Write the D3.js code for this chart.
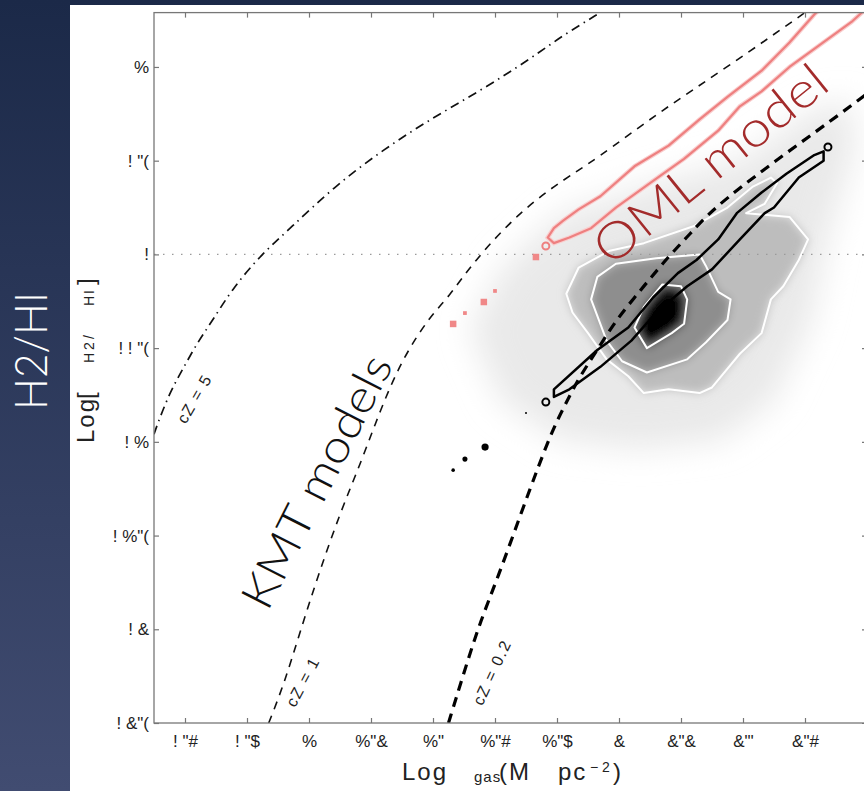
<!DOCTYPE html>
<html>
<head>
<meta charset="utf-8">
<script src="https://cdn.jsdelivr.net/npm/d3@7"></script>
<style>
    body { margin: 0; background: #fff; }
    svg { display: block; }
    .tick text { font-family: "Liberation Sans", Arial, sans-serif; font-size: 17px; fill: #222; }
    .tick line { stroke: #777; stroke-width: 1.2; }
</style>
</head>
<body>
<div id="chartcontainer"></div>
<script>
/*global d3 */

// tick values and labels as they are printed in the figure (its font glyphs are remapped)
var xTicks = [0.6, 0.8, 1.0, 1.2, 1.4, 1.6, 1.8, 2.0, 2.2, 2.4, 2.6],
    xTickLabels = ['! "#', '! "$', '%', '%"&', '%"', '%"#', '%"$', '&', '&"&', '&"\'', '&"#'],
    yTicks = [1, 0.5, 0, -0.5, -1, -1.5, -2, -2.5],
    yTickLabels = ['%', '! "(', '!', '! ! "(', '! %', '! %"(', '! &', '! &"('];

// KMT model curves [log Sigma_gas, log(H2/HI)]
var kmtZ5 = [[0.50, -0.96], [0.51, -0.91], [0.55, -0.74], [0.59, -0.62], [0.64, -0.47], [0.69, -0.35],
    [0.75, -0.19], [0.84, -0.01], [0.94, 0.14], [1.08, 0.36], [1.24, 0.56], [1.40, 0.73], [1.56, 0.88],
    [1.72, 1.05], [1.82, 1.17], [1.94, 1.29]];
var kmtZ1 = [[0.87, -2.50], [0.92, -2.29], [0.97, -2.02], [1.03, -1.71], [1.10, -1.38], [1.17, -1.10],
    [1.23, -0.83], [1.30, -0.56], [1.39, -0.33], [1.45, -0.23], [1.53, -0.04], [1.68, 0.23], [1.83, 0.41],
    [1.92, 0.50], [2.13, 0.76], [2.35, 1.00], [2.60, 1.29]];
var kmtZ02 = [[1.45, -2.50], [1.50, -2.23], [1.55, -1.97], [1.61, -1.72], [1.68, -1.40], [1.74, -1.13],
    [1.79, -0.92], [1.83, -0.79], [1.87, -0.66], [1.93, -0.51], [1.99, -0.35], [2.08, -0.17], [2.16, -0.01],
    [2.23, 0.11], [2.30, 0.24], [2.48, 0.47], [2.69, 0.72], [2.81, 0.87]];

// OML model contour (closed)
var omlContour = [[1.77, 0.09], [1.79, 0.14], [1.82, 0.18], [1.87, 0.24], [1.94, 0.31], [2.05, 0.47],
    [2.16, 0.58], [2.26, 0.72], [2.35, 0.84], [2.46, 0.98], [2.55, 1.13], [2.63, 1.28], [2.68, 1.36],
    [2.83, 1.36], [2.75, 1.24], [2.65, 1.12], [2.55, 1.00], [2.46, 0.87], [2.39, 0.79], [2.32, 0.66],
    [2.21, 0.51], [2.10, 0.38], [1.99, 0.25], [1.91, 0.14], [1.84, 0.09], [1.79, 0.06]];
// OML isolated cells [x, y, count], open circle at the tip
var omlCells = [[1.465, -0.371, 3], [1.503, -0.313, 1], [1.564, -0.254, 3], [1.600, -0.195, 1], [1.732, -0.014, 3]];
var omlEnds = [[1.764, 0.045]];

// black contour (closed) and its isolated cells
var kmtContour = [[1.79, -0.72], [1.93, -0.51], [2.03, -0.39], [2.11, -0.23], [2.19, -0.10], [2.25, -0.03],
    [2.32, 0.08], [2.38, 0.22], [2.46, 0.33], [2.54, 0.43], [2.63, 0.53], [2.66, 0.55],
    [2.66, 0.50], [2.58, 0.41], [2.50, 0.25], [2.47, 0.22], [2.39, 0.08], [2.30, -0.08], [2.22, -0.17],
    [2.12, -0.31], [2.04, -0.46], [1.94, -0.60], [1.84, -0.72], [1.79, -0.76]];
var kmtCells = [[1.568, -1.028, 4], [1.503, -1.092, 2], [1.465, -1.151, 1], [1.700, -0.846, 0.3]];
var kmtEnds = [[1.764, -0.788], [2.674, 0.573]];

// observed pixel density: haze, white contour levels, peak
var obsHaze = [[1.52, -0.40], [1.63, -0.06], [1.81, 0.21], [2.10, 0.37], [2.39, 0.50], [2.63, 0.77],
    [2.75, 0.82], [2.76, 0.56], [2.68, 0.13], [2.62, -0.35], [2.50, -0.78], [2.33, -0.99], [2.07, -1.04],
    [1.81, -0.99], [1.62, -0.78]];
var obsLevel1 = [[1.83, -0.21], [1.87, -0.07], [1.97, 0.02], [2.08, 0.06], [2.24, 0.15], [2.35, 0.25],
    [2.43, 0.36], [2.49, 0.41], [2.51, 0.38], [2.47, 0.27], [2.41, 0.22], [2.55, 0.20], [2.61, 0.08],
    [2.58, -0.03], [2.53, -0.17], [2.49, -0.24], [2.46, -0.42], [2.39, -0.53], [2.30, -0.71], [2.26, -0.74],
    [2.16, -0.72], [2.08, -0.74], [2.03, -0.65], [1.96, -0.56], [1.90, -0.42], [1.85, -0.31]];
var obsLevel2 = [[1.91, -0.24], [1.93, -0.12], [1.99, -0.05], [2.12, -0.02], [2.26, 0.00], [2.28, -0.06],
    [2.32, -0.20], [2.36, -0.24], [2.35, -0.35], [2.28, -0.47], [2.22, -0.56], [2.09, -0.63], [2.01, -0.57],
    [1.96, -0.46]];
var obsLevel3 = [[2.05, -0.39], [2.08, -0.28], [2.14, -0.16], [2.20, -0.17], [2.22, -0.24], [2.21, -0.37],
    [2.17, -0.42], [2.09, -0.50]];
var obsPeak = [[2.07, -0.35], [2.10, -0.24], [2.16, -0.19], [2.20, -0.23], [2.21, -0.32], [2.17, -0.41],
    [2.11, -0.47], [2.07, -0.43]];

function H2Figure() {

    var width = 864,
        height = 791,
        panelWidth = 70,
        plot = { left: 154, right: 867, top: 12.6, bottom: 723 };

    var x = d3.scaleLinear().domain([0.5, 2.8]).range([plot.left, plot.right]),
        y = d3.scaleLinear().domain([-2.5, 1.29]).range([plot.bottom, plot.top]);

    var svg, defs, clipped;

    var line = d3.line()
        .x(function (d) { return x(d[0]); })
        .y(function (d) { return y(d[1]); })
        .curve(d3.curveBasis);
    var loop = d3.line()
        .x(function (d) { return x(d[0]); })
        .y(function (d) { return y(d[1]); })
        .curve(d3.curveLinearClosed);

    function prepareSvg() {
        svg = d3.select("#chartcontainer").append("svg")
            .attr("width", width)
            .attr("height", height);
        defs = svg.append("defs");

        var grad = defs.append("linearGradient").attr("id", "panelGrad")
            .attr("x1", 0).attr("y1", 0).attr("x2", 0).attr("y2", 1);
        grad.append("stop").attr("offset", "0%").attr("stop-color", "#1b2948");
        grad.append("stop").attr("offset", "100%").attr("stop-color", "#414c71");

        defs.append("filter").attr("id", "soft")
            .attr("x", "-30%").attr("y", "-30%").attr("width", "160%").attr("height", "160%")
            .append("feGaussianBlur").attr("stdDeviation", 5);
        defs.append("filter").attr("id", "haze")
            .attr("x", "-50%").attr("y", "-50%").attr("width", "200%").attr("height", "200%")
            .append("feGaussianBlur").attr("stdDeviation", 16);

        defs.append("clipPath").attr("id", "plotClip")
            .append("rect")
            .attr("x", plot.left).attr("y", plot.top)
            .attr("width", plot.right - plot.left).attr("height", plot.bottom - plot.top);

        // slide background: dark panel on the left and a thin strip on top
        svg.append("rect").attr("width", width).attr("height", height).attr("fill", "url(#panelGrad)");
        svg.append("rect").attr("x", panelWidth).attr("y", 5)
            .attr("width", width - panelWidth).attr("height", height - 5).attr("fill", "#fff");

        svg.append("text")
            .attr("transform", "translate(47," + 351 + ") rotate(-90)")
            .attr("text-anchor", "middle")
            .attr("font-family", "Lato, 'Open Sans', sans-serif")
            .attr("font-weight", 300)
            .attr("font-size", 46)
            .attr("textLength", 118)
            .attr("lengthAdjust", "spacingAndGlyphs")
            .attr("fill", "#fff")
            .text("H2/HI");

        clipped = svg.append("g").attr("clip-path", "url(#plotClip)");
    }

    function drawDensity() {
        clipped.append("path").attr("d", loop(obsHaze))
            .attr("fill", "#e9e9e9").attr("filter", "url(#haze)");

        var shade = clipped.append("g").attr("filter", "url(#soft)");
        shade.append("path").attr("d", loop(obsLevel1)).attr("fill", "#bdbdbd");
        shade.append("path").attr("d", loop(obsLevel2)).attr("fill", "#8e8e8e");
        shade.append("path").attr("d", loop(obsLevel3)).attr("fill", "#2a2a2a");
        shade.append("path").attr("d", loop(obsPeak)).attr("fill", "#000");

        [obsLevel1, obsLevel2, obsLevel3].forEach(function (level) {
            clipped.append("path").attr("d", loop(level))
                .attr("fill", "none")
                .attr("stroke", "#fff")
                .attr("stroke-width", 2)
                .attr("stroke-linejoin", "round");
        });
    }

    function drawModels() {
        clipped.append("line")
            .attr("x1", plot.left).attr("x2", plot.right)
            .attr("y1", y(0)).attr("y2", y(0))
            .attr("stroke", "#9a9a9a")
            .attr("stroke-width", 1.3)
            .attr("stroke-dasharray", "1.5,7.5");

        clipped.append("path").attr("d", line(kmtZ5))
            .attr("fill", "none").attr("stroke", "#111")
            .attr("stroke-width", 1.7).attr("stroke-dasharray", "9,5,1.5,5");
        clipped.append("path").attr("d", line(kmtZ1))
            .attr("fill", "none").attr("stroke", "#111")
            .attr("stroke-width", 1.6).attr("stroke-dasharray", "8,7");
        clipped.append("path").attr("d", line(kmtZ02))
            .attr("fill", "none").attr("stroke", "#000")
            .attr("stroke-width", 3.2).attr("stroke-dasharray", "10,7");

        // OML contour
        clipped.append("path").attr("d", loop(omlContour))
            .attr("fill", "none").attr("stroke", "#f9cfcf").attr("stroke-width", 4.5);
        clipped.append("path").attr("d", loop(omlContour))
            .attr("fill", "none").attr("stroke", "#ee8080").attr("stroke-width", 2.2)
            .attr("stroke-linejoin", "round");

        // black contour
        clipped.append("path").attr("d", loop(kmtContour))
            .attr("fill", "none").attr("stroke", "#000").attr("stroke-width", 2.5)
            .attr("stroke-linejoin", "round");

        var cellSize = d3.scaleSqrt().domain([0, 3]).range([0, 6.5]),
            dotSize = d3.scaleSqrt().domain([0, 4]).range([0, 3.6]);

        clipped.selectAll("rect.oml").data(omlCells).enter().append("rect")
            .attr("class", "oml")
            .attr("x", function (d) { return x(d[0]) - cellSize(d[2]) / 2; })
            .attr("y", function (d) { return y(d[1]) - cellSize(d[2]) / 2; })
            .attr("width", function (d) { return cellSize(d[2]); })
            .attr("height", function (d) { return cellSize(d[2]); })
            .attr("fill", "#f08888");
        clipped.selectAll("circle.omlEnd").data(omlEnds).enter().append("circle")
            .attr("class", "omlEnd")
            .attr("cx", function (d) { return x(d[0]); })
            .attr("cy", function (d) { return y(d[1]); })
            .attr("r", 3.5)
            .attr("fill", "none").attr("stroke", "#ee8080").attr("stroke-width", 2);

        clipped.selectAll("circle.kmt").data(kmtCells).enter().append("circle")
            .attr("class", "kmt")
            .attr("cx", function (d) { return x(d[0]); })
            .attr("cy", function (d) { return y(d[1]); })
            .attr("r", function (d) { return dotSize(d[2]); })
            .attr("fill", "#000");
        clipped.selectAll("circle.kmtEnd").data(kmtEnds).enter().append("circle")
            .attr("class", "kmtEnd")
            .attr("cx", function (d) { return x(d[0]); })
            .attr("cy", function (d) { return y(d[1]); })
            .attr("r", 3.5)
            .attr("fill", "none").attr("stroke", "#000").attr("stroke-width", 2);
    }

    function drawAxes() {
        var gx = svg.append("g")
            .attr("transform", "translate(0," + plot.bottom + ")")
            .call(d3.axisBottom(x).tickValues(xTicks)
                .tickFormat(function (d, i) { return xTickLabels[i]; })
                .tickSizeInner(-5).tickSizeOuter(0).tickPadding(12));
        var gy = svg.append("g")
            .attr("transform", "translate(" + plot.left + ",0)")
            .call(d3.axisLeft(y).tickValues(yTicks)
                .tickFormat(function (d, i) { return yTickLabels[i]; })
                .tickSizeInner(-5).tickSizeOuter(0).tickPadding(5));
        var gt = svg.append("g")
            .attr("transform", "translate(0," + plot.top + ")")
            .call(d3.axisTop(x).tickValues(xTicks).tickFormat("").tickSizeInner(-5).tickSizeOuter(0));
        var gr = svg.append("g")
            .attr("transform", "translate(" + plot.right + ",0)")
            .call(d3.axisRight(y).tickValues(yTicks).tickFormat("").tickSizeInner(-5).tickSizeOuter(0));

        [gx, gy, gt, gr].forEach(function (g) {
            g.select(".domain").remove();
        });

        svg.append("rect")
            .attr("x", plot.left).attr("y", plot.top)
            .attr("width", plot.right - plot.left).attr("height", plot.bottom - plot.top)
            .attr("fill", "none").attr("stroke", "#777").attr("stroke-width", 1.3);
    }

    function addText(parent, px, py, angle, str, size, opts) {
        var t = parent.append("text")
            .attr("transform", "translate(" + px + "," + py + ") rotate(" + angle + ")")
            .attr("font-family", (opts && opts.family) || "'Liberation Sans', Arial, sans-serif")
            .attr("font-size", size)
            .attr("fill", (opts && opts.fill) || "#222")
            .attr("text-anchor", (opts && opts.anchor) || "start")
            .text(str);
        if (opts && opts.spacing) { t.attr("letter-spacing", opts.spacing); }
        if (opts && opts.weight) { t.attr("font-weight", opts.weight); }
        if (opts && opts.length) { t.attr("textLength", opts.length).attr("lengthAdjust", "spacingAndGlyphs"); }
        return t;
    }

    function drawLabels() {
        // x axis title: Log Σgas (M⊙ pc^-2) with the missing glyphs left blank, as printed
        addText(svg, 402, 780, 0, "Log", 24, { spacing: 2 });
        addText(svg, 474, 782, 0, "gas", 15, { spacing: 1 });
        addText(svg, 499, 780, 0, "(M", 24, { spacing: 2 });
        addText(svg, 558, 780, 0, "pc", 24, { spacing: 2 });
        addText(svg, 590, 772, 0, "\u2212 2", 14);
        addText(svg, 613, 780, 0, ")", 24);

        // y axis title: Log[ΣH2/ΣHI]
        addText(svg, 94, 443, -90, "Log", 24, { spacing: 2 });
        addText(svg, 94, 399, -90, "[", 24);
        addText(svg, 94, 363, -90, "H2/", 14, { spacing: 3 });
        addText(svg, 94, 306, -90, "HI", 14, { spacing: 2 });
        addText(svg, 94, 285, -90, "]", 24);

        // curve labels
        addText(svg, x(0.63), y(-0.77), -60, "cZ = 5", 16, { anchor: "middle", spacing: 1.5 })
            .attr("dy", "0.35em");
        addText(svg, x(0.98), y(-2.28), -62, "cZ = 1", 16, { anchor: "middle", spacing: 1.5 })
            .attr("dy", "0.35em");
        addText(svg, x(1.59), y(-2.23), -65, "cZ = 0.2", 16, { anchor: "middle", spacing: 1.5 })
            .attr("dy", "0.35em");

        // model names
        addText(svg, x(2.33), y(0.41), -39, "OML model", 50,
            { anchor: "middle", fill: "#a32b2b", family: "Lato, 'Open Sans', sans-serif", weight: 300, length: 285 });
        addText(svg, x(1.07), y(-1.25), -63, "KMT models", 45,
            { anchor: "middle", fill: "#111", family: "Lato, 'Open Sans', sans-serif", weight: 300, length: 278 });
    }

    prepareSvg();
    drawDensity();
    drawModels();
    drawAxes();
    drawLabels();
}

H2Figure();
</script>
</body>
</html>
